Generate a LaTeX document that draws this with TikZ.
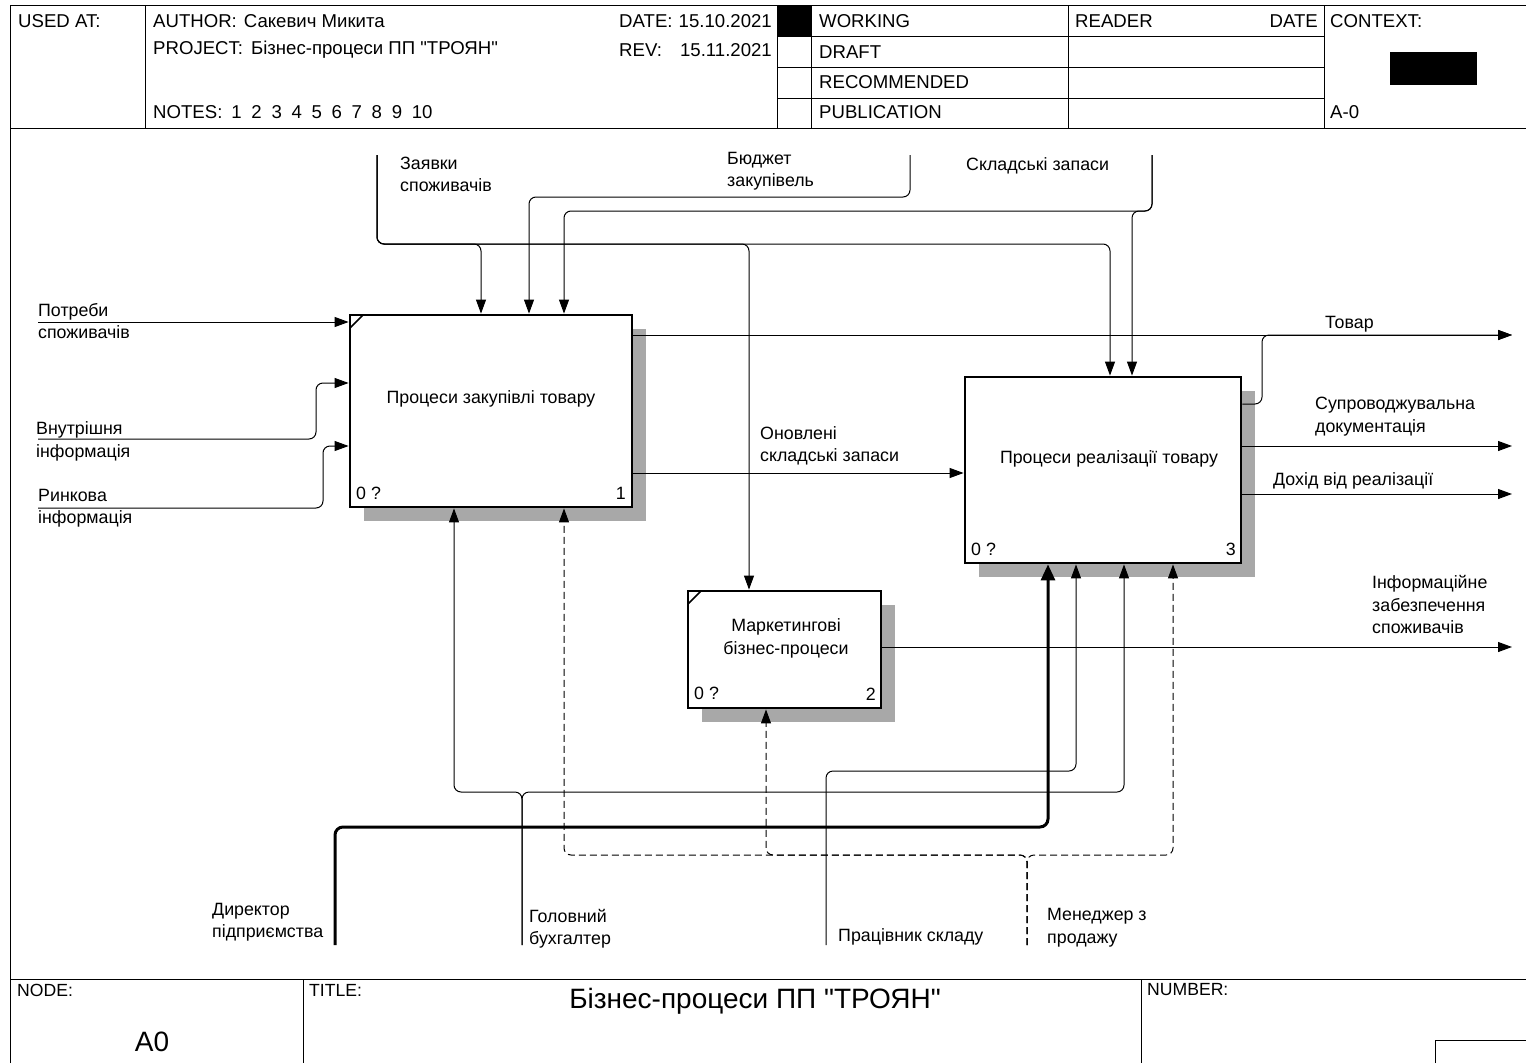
\documentclass[tikz,border=0pt]{standalone}
\usepackage{fontspec}
\newfontfamily\lsans{Liberation Sans}
\usetikzlibrary{arrows.meta}
\begin{document}
\begin{tikzpicture}[x=1pt,y=-1pt,
  frame/.style={line width=1pt},
  lbl/.style={anchor=west, inner sep=0pt, yshift=-1.8pt, font=\lsans\fontsize{17.8}{22.5}\selectfont, align=left},
  hdr/.style={anchor=west, inner sep=0pt, yshift=-1pt, font=\lsans\fontsize{18.6}{20}\selectfont},
  ftr/.style={anchor=west, inner sep=0pt, font=\lsans\fontsize{17.6}{20}\selectfont},
  big/.style={inner sep=0pt, yshift=-1.5pt, font=\lsans\fontsize{28}{32}\selectfont},
  actbox/.style={draw, line width=2.8pt, fill=white, inner sep=0pt},
  shadowbox/.style={fill=gray!68},
  conn/.style={line width=1pt, rounded corners=7pt, -{Triangle[length=14pt,width=10pt]}},
  thickconn/.style={line width=3pt, rounded corners=8pt, -{Triangle[length=16pt,width=14pt]}},
  dconn/.style={conn, dash pattern=on 7pt off 4pt},
]
\useasboundingbox (0,0) rectangle (1526,1063);

% ---------- frame ----------
\draw[frame] (10,1063) -- (10,5) -- (1526,5);
\draw[frame] (10,128) -- (1526,128);
\draw[frame] (145,5) -- (145,128);
\draw[frame] (777,5) -- (777,128);
\draw[frame] (811,5) -- (811,128);
\draw[frame] (1068,5) -- (1068,128);
\draw[frame] (1324,5) -- (1324,128);
\draw[frame] (777,36) -- (1324,36);
\draw[frame] (777,67) -- (1324,67);
\draw[frame] (777,98) -- (1324,98);
\fill (777,5) rectangle (811,36);
\fill (1390,52) rectangle (1477,85);
\draw[frame] (10,979) -- (1526,979);
\draw[frame] (303,979) -- (303,1063);
\draw[frame] (1141,979) -- (1141,1063);
\draw[frame] (1435,1063) -- (1435,1040) -- (1526,1040);

% ---------- header texts ----------
\node[hdr] (usedat) at (18,20) {USED AT:};
\node[hdr] (author) at (153,20) {AUTHOR:\hskip 7pt Сакевич Микита};
\node[hdr] (project) at (153,49) {PROJECT:\hskip 8pt Бізнес-процеси ПП "ТРОЯН"};
\node[hdr] (notes) at (153,111) {NOTES:\hskip 9pt 1\hskip 9.7pt 2\hskip 9.7pt 3\hskip 9.7pt 4\hskip 9.7pt 5\hskip 9.7pt 6\hskip 9.7pt 7\hskip 9.7pt 8\hskip 9.7pt 9\hskip 9.7pt 10};
\node[hdr] (datel) at (619,20) {DATE:};
\node[hdr, anchor=east] (datev) at (772,20) {15.10.2021};
\node[hdr] (revl) at (619,49) {REV:};
\node[hdr, anchor=east] (revv) at (772,49) {15.11.2021};
\node[hdr] (working) at (819,20) {WORKING};
\node[hdr] (draft) at (819,51) {DRAFT};
\node[hdr] (recom) at (819,81) {RECOMMENDED};
\node[hdr] (publ) at (819,111) {PUBLICATION};
\node[hdr] (reader) at (1075,20) {READER};
\node[hdr, anchor=east] (rdate) at (1318,20) {DATE};
\node[hdr] (context) at (1330,20) {CONTEXT:};
\node[hdr] (azero) at (1330,111) {A-0};

% ---------- footer texts ----------
\node[ftr] (nodel) at (17,990) {NODE:};
\node[ftr] (titlel) at (309,990) {TITLE:};
\node[ftr] (numberl) at (1147,990) {NUMBER:};
\node[big] (title) at (755,1000) {Бізнес-процеси ПП "ТРОЯН"};
\node[big] (anode) at (152,1040) {A0};

% ---------- activity boxes ----------
\fill[shadowbox] (364,329) rectangle (646,521);
\fill[shadowbox] (702,605) rectangle (895,722);
\fill[shadowbox] (979,391) rectangle (1255,577);
\node[actbox, minimum width=282pt, minimum height=192pt] (b1) at (491,411) {};
\node[actbox, minimum width=193pt, minimum height=117pt] (b2) at (784.5,649.5) {};
\node[actbox, minimum width=276pt, minimum height=186pt] (b3) at (1103,470) {};
\draw[line width=1.5pt] (350,328) -- (363,315);
\draw[line width=1.5pt] (688,604) -- (701,591);

\node[lbl, anchor=center] (t1) at (491,397) {Процеси закупівлі товару};
\node[lbl, anchor=center] (t3) at (1109,457) {Процеси реалізації товару};
\node[lbl, anchor=center, align=center] (t2) at (786,636.5) {Маркетингові\\бізнес-процеси};
\node[lbl] (n1a) at (356,492) {0 ?};
\node[lbl, anchor=east] (n1b) at (626,492) {1};
\node[lbl] (n2a) at (694,692) {0 ?};
\node[lbl, anchor=east] (n2b) at (876,692) {2};
\node[lbl] (n3a) at (971,548) {0 ?};
\node[lbl, anchor=east] (n3b) at (1236,548) {3};

% ---------- coordinates ----------
\coordinate (zTop) at (377,155);
\coordinate (zx1) at (481,244);
\coordinate (zx2) at (749,244);
\coordinate (zx3) at (1110,244);
\coordinate (bTop) at (910,155);
\coordinate (bx1) at (529,197);
\coordinate (sTop) at (1152,155);
\coordinate (sx1) at (564,211);
\coordinate (sx3) at (1132,211);
\coordinate (pL) at (38,322);
\coordinate (vL) at (38,439);
\coordinate (vE) at (316,383);
\coordinate (rL) at (38,508);
\coordinate (rE) at (323,446);
\coordinate (tR) at (1512,335);
\coordinate (tj) at (1262,404);
\coordinate (oy) at (800,473);
\coordinate (sdR) at (1512,446);
\coordinate (dR) at (1512,494);
\coordinate (iR) at (1512,647);
\coordinate (dB) at (335,945);
\coordinate (dx) at (1048,827);
\coordinate (gB) at (522,945);
\coordinate (gx1) at (454,792);
\coordinate (gx3) at (1124,792);
\coordinate (prB) at (826,945);
\coordinate (px) at (1076,771);
\coordinate (mB) at (1027,945);
\coordinate (mx1) at (564,855);
\coordinate (mx2) at (766,855);
\coordinate (mx3) at (1173,855);

% ---------- controls ----------
\draw[conn] (zTop) |- (zx1) -- (zx1 |- b1.north);
\draw[conn] (zTop) |- (zx2) -- (zx2 |- b2.north);
\draw[conn] (zTop) |- (zx3) -- (zx3 |- b3.north);
\draw[conn] (bTop) |- (bx1) -- (bx1 |- b1.north);
\draw[conn] (sTop) |- (sx1) -- (sx1 |- b1.north);
\draw[conn] (sTop) |- (sx3) -- (sx3 |- b3.north);

% ---------- inputs ----------
\draw[conn] (pL) -- (pL -| b1.west);
\draw[conn] (vL) -| (vE) -- (vE -| b1.west);
\draw[conn] (rL) -| (rE) -- (rE -| b1.west);
\draw[conn] (oy -| b1.east) -- (oy -| b3.west);

% ---------- outputs ----------
\draw[conn] (tR -| b1.east) -- (tR);
\draw[conn] (tj -| b3.east) -- (tj) |- (tR);
\draw[conn] (sdR -| b3.east) -- (sdR);
\draw[conn] (dR -| b3.east) -- (dR);
\draw[conn] (iR -| b2.east) -- (iR);

% ---------- mechanisms ----------
\draw[thickconn] (dB) |- (dx) -- (dx |- b3.south);
\draw[conn] (gB) |- (gx1) -- (gx1 |- b1.south);
\draw[conn] (gB) |- (gx3) -- (gx3 |- b3.south);
\draw[conn] (prB) |- (px) -- (px |- b3.south);
\draw[dconn] (mB) |- (mx1) -- (mx1 |- b1.south);
\draw[dconn] (mB) |- (mx2) -- (mx2 |- b2.south);
\draw[dconn] (mB) |- (mx3) -- (mx3 |- b3.south);

% ---------- labels ----------
\node[lbl] (lpotr) at (38,319.5) {Потреби\\споживачів};
\node[lbl] (lvnut) at (36,439.5) {Внутрішня\\інформація};
\node[lbl] (lrynk) at (38,506.5) {Ринкова\\інформація};
\node[lbl] (lzayav) at (400,172.5) {Заявки\\споживачів};
\node[lbl] (lbudg) at (727,169.5) {Бюджет\\закупівель};
\node[lbl] (lsklad) at (966,164) {Складські запаси};
\node[lbl] (ltovar) at (1325,322) {Товар};
\node[lbl] (lonov) at (760,444) {Оновлені\\складські запаси};
\node[lbl] (lsupr) at (1315,415) {Супроводжувальна\\документація};
\node[lbl] (ldohid) at (1273,479) {Дохід від реалізації};
\node[lbl] (linfo) at (1372,603) {Інформаційне\\забезпечення\\споживачів};
\node[lbl] (ldyr) at (212,920.5) {Директор\\підприємства};
\node[lbl] (lgol) at (529,927) {Головний\\бухгалтер};
\node[lbl] (lprac) at (838,935) {Працівник складу};
\node[lbl] (lmen) at (1047,926) {Менеджер з\\продажу};
\end{tikzpicture}
\end{document}
